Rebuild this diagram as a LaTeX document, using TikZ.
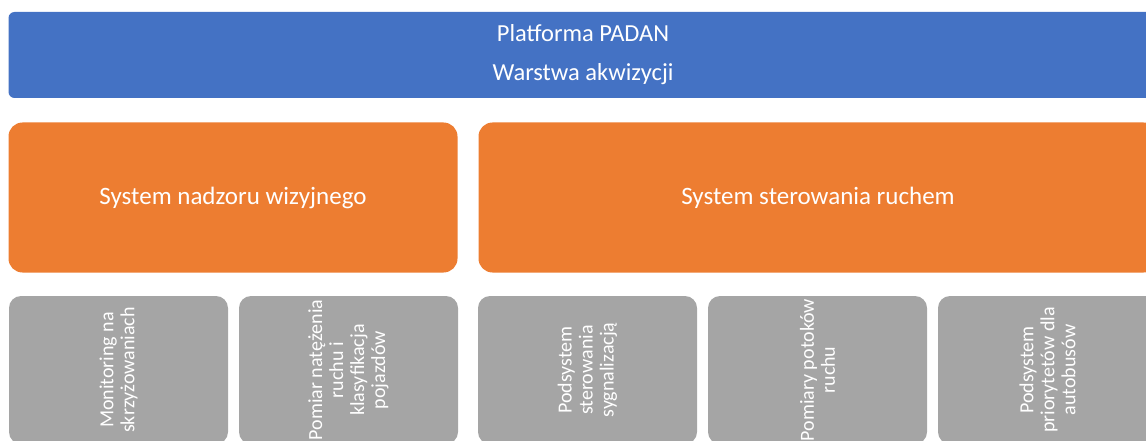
\documentclass[tikz,border=0pt]{standalone}
\usepackage{fontspec}
\setmainfont{Carlito}
\usepackage{xcolor}
\usepackage{tikz}
\usetikzlibrary{positioning}

\definecolor{acqblue}{HTML}{4472C4}
\definecolor{sysorange}{HTML}{ED7D31}
\definecolor{subgray}{HTML}{A5A5A5}

\begin{document}
\begin{tikzpicture}[x=1pt, y=-1pt, inner sep=0pt, outer sep=0pt, text=white,
  layer/.style={fill=acqblue, rounded corners=6pt, minimum width=1149pt, minimum height=86pt,
    align=center, font=\fontsize{24.5}{39}\selectfont},
  system/.style={fill=sysorange, rounded corners=14pt, minimum height=150pt,
    font=\fontsize{25}{30}\selectfont},
  subbox/.style={fill=subgray, rounded corners=12pt, minimum width=219pt, minimum height=148pt},
  subtext/.style={rotate=90, align=center, font=\fontsize{20}{21}\selectfont}]
\useasboundingbox (0,0) rectangle (1146,441);
\clip (0,0) rectangle (1146,441);

\node[layer] (padan) at (583,55) {Platforma PADAN\\Warstwa akwizycji};

\node[system, minimum width=449pt] (nadzor) at (233,197.5) {System nadzoru wizyjnego};
\node[system, minimum width=679pt] (ruch) [right=21pt of nadzor] {System sterowania ruchem};

\node[subbox] (s1) at (118.5,370) {};
\node[subbox] (s2) [right=11pt of s1] {};
\node[subbox] (s3) [right=20pt of s2] {};
\node[subbox] (s4) [right=11pt of s3] {};
\node[subbox] (s5) [right=11pt of s4] {};

\node[subtext] at (s1) {Monitoring na\\skrzyżowaniach};
\node[subtext] at (s2) {Pomiar natężenia\\ruchu i\\klasyfikacja\\pojazdów};
\node[subtext] at (s3) {Podsystem\\sterowania\\sygnalizacją};
\node[subtext] at (s4) {Pomiary potoków\\ruchu};
\node[subtext] at (s5) {Podsystem\\priorytetów dla\\autobusów};
\end{tikzpicture}
\end{document}
